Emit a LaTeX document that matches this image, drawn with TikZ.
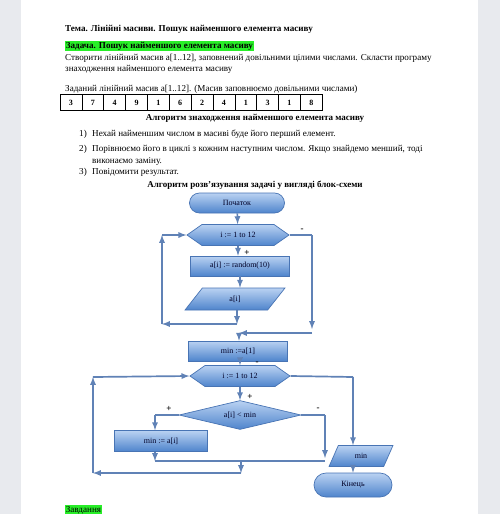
\documentclass[tikz,border=0pt]{standalone}
\usepackage{fontspec}
\setmainfont{Liberation Serif}
\usetikzlibrary{shapes}
\definecolor{boxtop}{RGB}{186,210,242}
\definecolor{boxbot}{RGB}{78,132,204}
\definecolor{boxline}{RGB}{72,116,180}
\definecolor{flowline}{RGB}{96,130,182}
\definecolor{pagegray}{RGB}{232,234,238}
\definecolor{marker}{RGB}{40,238,40}
\begin{document}
\begin{tikzpicture}[x=1pt,y=-1pt,>=latex]
\tikzstyle{txt}=[anchor=base west,inner sep=0pt,font=\fontsize{9.1}{11}\selectfont]
\tikzstyle{head}=[anchor=base,inner sep=0pt,font=\fontsize{9}{11}\selectfont\bfseries]
\tikzstyle{cell}=[draw,line width=0.6pt,minimum width=21.85,minimum height=15.5,inner sep=0pt,font=\fontsize{8}{10}\selectfont\bfseries]
\tikzstyle{block}=[draw=boxline,line width=0.7pt,top color=boxtop,bottom color=boxbot,text=black!85!blue,font=\fontsize{8}{9}\selectfont,inner sep=1pt]
\tikzstyle{term}=[block,rounded rectangle,minimum height=20]
\tikzstyle{proc}=[block,rectangle,minimum height=20]
\tikzstyle{forbox}=[block,signal,signal to=east and west,signal pointer angle=70,minimum height=21]
\tikzstyle{io}=[block,trapezium,trapezium left angle=68,trapezium right angle=112,trapezium stretches=true,minimum height=22]
\tikzstyle{decide}=[block,diamond,aspect=4,minimum width=122,minimum height=29]
\tikzstyle{flow}=[draw=flowline,line width=1.7pt]
\tikzstyle{sign}=[font=\fontsize{9}{9}\selectfont\bfseries,inner sep=0pt]
\useasboundingbox (0,0) rectangle (500,514);
\clip (0,0) rectangle (500,514);
\fill[pagegray] (0,0) rectangle (500,514);
\fill[white] (21,0) rectangle (478,514);

\node[txt,font=\fontsize{9.1}{11}\selectfont\bfseries](topic) at (65,31) {Тема. Лінійні масиви. Пошук найменшого елемента масиву};
\node[txt,fill=marker,inner sep=0.6pt,font=\fontsize{9.1}{11}\selectfont\bfseries](task) at (65,48) {Задача. Пошук найменшого елемента масиву};
\node[txt](line1) at (65,60) {Створити лінійний масив а[1..12], заповнений довільними цілими числами. Скласти програму};
\node[txt](line2) at (65,71) {знаходження найменшого елемента масиву};
\node[txt](given) at (65,91) {Заданий лінійний масив а[1..12]. (Масив заповнюємо довільними числами)};
\foreach \v [count=\i] in {3,7,4,9,1,6,2,4,1,3,1,8}
  \node[cell](c\i) at (60+21.85*\i-10.9,102.5) {\v};
\node[head](algo) at (255,120) {Алгоритм знаходження найменшого елемента масиву};
\node[txt](n1) at (79,136) {1)};
\node[txt](s1) at (92,136) {Нехай найменшим числом в масиві буде його перший елемент.};
\node[txt](n2) at (79,151) {2)};
\node[txt](s2) at (92,151) {Порівнюємо його в циклі з кожним наступним числом. Якщо знайдемо менший, тоді};
\node[txt](s2b) at (92,163) {виконаємо заміну.};
\node[txt](n3) at (79,174) {3)};
\node[txt](s3) at (92,174) {Повідомити результат.};
\node[head](scheme) at (255,187) {Алгоритм розв'язування задачі у вигляді блок-схеми};

\node[term,minimum width=97](start) at (237,203) {Початок};
\node[forbox,minimum width=102](forA) at (238,235) {i := 1 to 12};
\node[proc,minimum width=99](rnd) at (240,266) {a[i] := random(10)};
\node[io,minimum width=100](outA) at (235,299) {a[i]};
\node[proc,minimum width=99](minA) at (238,351) {min :=a[1]};
\node[forbox,minimum width=100](forB) at (240,376) {i := 1 to 12};
\node[decide](cmp) at (240,415) {a[i] < min};
\node[proc,minimum width=93,minimum height=21](setMin) at (161,441) {min := a[i]};
\node[io,minimum width=64,minimum height=21](outMin) at (361,456) {min};
\node[term,minimum width=80,minimum height=24](stop) at (353,485) {Кінець};

\coordinate (a1) at (237,324);
\coordinate (a2) at (162,324);
\coordinate (a3) at (162,235);
\coordinate (b1) at (312,235);
\coordinate (b2) at (312,329);
\coordinate (b3) at (312,333);
\coordinate (b4) at (239,333);
\coordinate (e1) at (155,415);
\coordinate (e2) at (325,415);
\coordinate (e3) at (325,458);
\coordinate (f1) at (155,461);
\coordinate (f2) at (325,461);
\coordinate (f3) at (241,461);
\coordinate (f4) at (241,473);
\coordinate (f5) at (93,473);
\coordinate (f6) at (93,377);
\coordinate (g1) at (353,377);

\draw[flow,->] (start) -- (forA);
\draw[flow,->] (forA) -- (forA |- rnd.north);
\draw[flow,->] (rnd) -- (rnd |- outA.north);
\draw[flow,->] (outA.south -| a1) -- (a1);
\draw[flow,->] (a1) -- (a2);
\draw[flow,->] (a2) -- (a3);
\draw[flow,->] (a3) -- (forA.west);
\draw[flow] (forA.east) -- (b1);
\draw[flow,->] (b1) -- (b2);
\draw[flow,->] (b3) -- (b4);
\draw[flow,->] (b4) -- (b4 |- minA.north);
\draw[flow,->] (minA.south -| forB) -- (forB);
\draw[flow,->] (forB) -- (cmp);
\draw[flow] (cmp.west) -- (e1);
\draw[flow,->] (e1) -- (e1 |- setMin.north);
\draw[flow] (cmp.east) -- (e2);
\draw[flow,->] (e2) -- (e3);
\draw[flow,->] (setMin.south -| f1) -- (f1);
\draw[flow] (f1) -- (f2);
\draw[flow,->] (f3) -- (f4);
\draw[flow,->] (f4) -- (f5);
\draw[flow,->] (f5) -- (f6);
\draw[flow,->] (f6) -- (forB.west);
\draw[flow] (forB.east) -- (g1);
\draw[flow,->] (g1) -- (g1 |- outMin.north);
\draw[flow,->] (outMin.south -| g1) -- (g1 |- stop.north);

\node[sign](pA) at (247,253) {+};
\node[sign](mA) at (302,230) {-};
\node[sign](mB) at (257,363) {-};
\node[sign](pB) at (250,397) {+};
\node[sign](pC) at (169,409) {+};
\node[sign](mC) at (318,409) {-};

\node[txt,fill=marker,inner sep=0.6pt](next) at (65,512) {Завдання};
\end{tikzpicture}
\end{document}
